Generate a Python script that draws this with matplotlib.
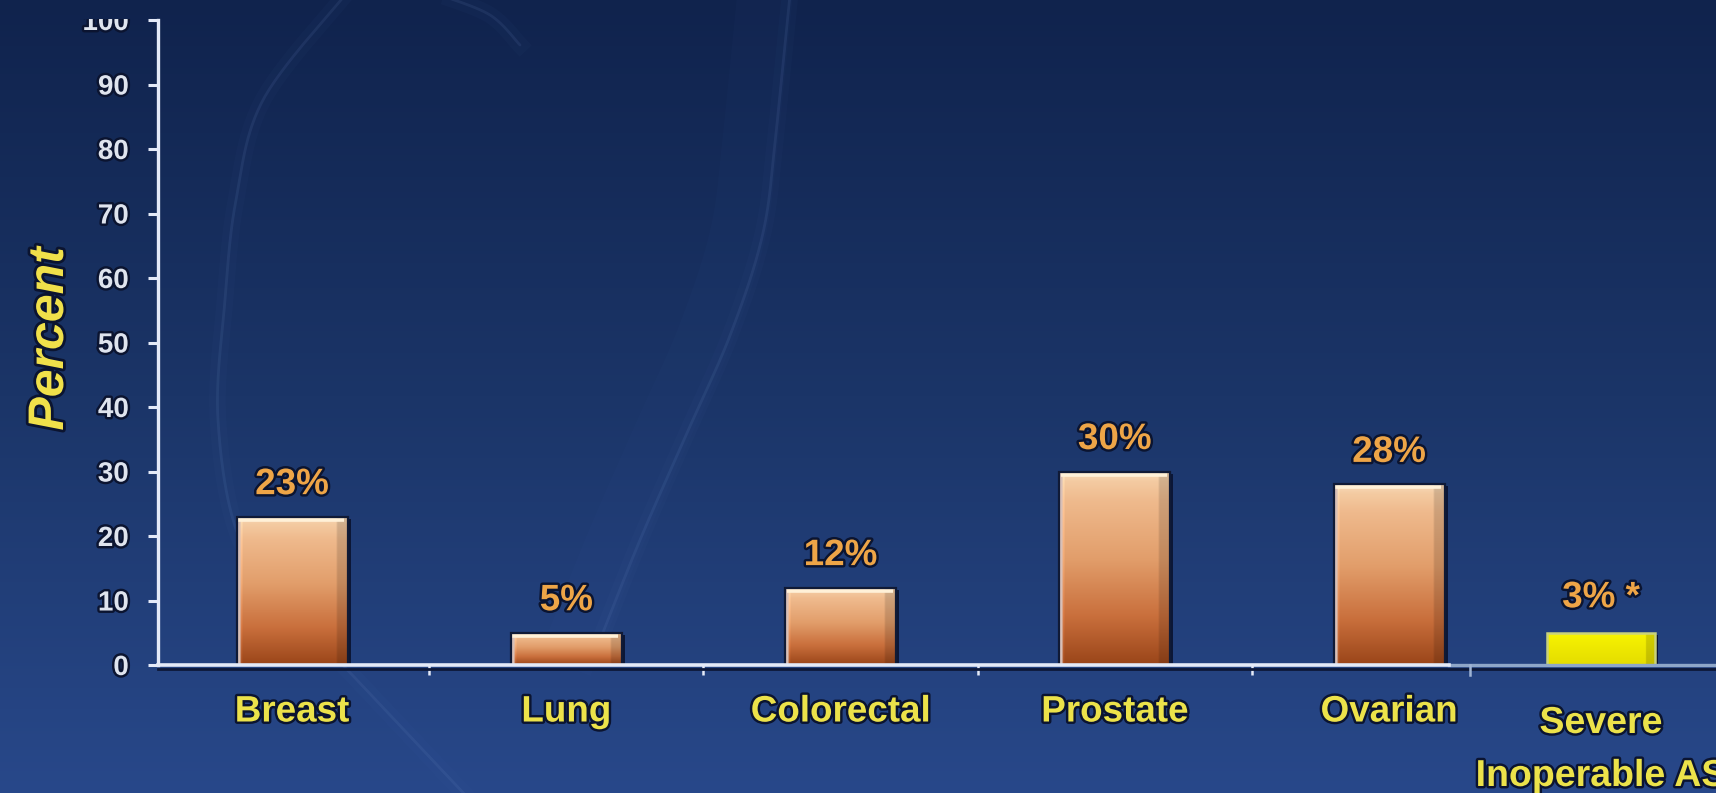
import numpy as np
import matplotlib
matplotlib.use("Agg")
import matplotlib.pyplot as plt
from matplotlib import patheffects as pe
from matplotlib.transforms import offset_copy, Bbox, TransformedBbox, IdentityTransform
from matplotlib.colors import LinearSegmentedColormap, to_rgb
from matplotlib.patches import Rectangle

# ---------------- data ----------------
categories = ["Breast", "Lung", "Colorectal", "Prostate", "Ovarian"]
values = [23, 5, 12, 30, 28]
value_labels = ["23%", "5%", "12%", "30%", "28%"]
extra_category = ["Severe", "Inoperable AS"]
extra_value_label = "3% *"
extra_bar_height = 5          # drawn height of the yellow bar
yticks = [0, 10, 20, 30, 40, 50, 60, 70, 80, 90, 100]
ylabel = "Percent"

# ---------------- style ----------------
plt.rcParams["font.family"] = ["Liberation Sans", "DejaVu Sans"]
W, H = 1716, 793
fig = plt.figure(figsize=(W / 100, H / 100), dpi=100)

# background gradient
bg = fig.add_axes([0, 0, 1, 1], zorder=0)
grad = np.linspace(0, 1, 256)[:, None]
cmap_bg = LinearSegmentedColormap.from_list("bg", ["#10234d", "#1b3568", "#28488a"])
bg.imshow(grad, aspect="auto", cmap=cmap_bg, extent=[0, W, H, 0])
bg.set_xlim(0, W)
bg.set_ylim(H, 0)
bg.axis("off")


def catmull(pts, n=30):
    pts = np.asarray(pts, float)
    P = np.vstack([pts[0], pts, pts[-1]])
    out = []
    for i in range(1, len(P) - 2):
        p0, p1, p2, p3 = P[i - 1], P[i], P[i + 1], P[i + 2]
        t = np.linspace(0, 1, n)[:, None]
        out.append(0.5 * ((2 * p1) + (-p0 + p2) * t + (2 * p0 - 5 * p1 + 4 * p2 - p3) * t ** 2
                          + (-p0 + 3 * p1 - 3 * p2 + p3) * t ** 3))
    return np.vstack(out)


# decorative faint swooshes
arc1 = catmull([(345, -5), (263, 100), (236, 200), (225, 300), (218, 420), (240, 540),
                (300, 620), (357, 680), (470, 800)])
arc2 = catmull([(790, -5), (776, 133), (763, 233), (731, 333), (687, 433), (640, 540), (600, 640)])
arc3 = catmull([(440, -5), (490, 15), (520, 45)])
for arc in (arc1, arc2, arc3):
    bg.plot(arc[:, 0], arc[:, 1], color="#6f8fc8", lw=2.0, alpha=0.12, solid_capstyle="round")
    bg.plot(arc[:, 0], arc[:, 1], color="#5b7cc0", lw=12, alpha=0.035)
bg.plot(arc2[:, 0] - 25, arc2[:, 1], color="#4a6cb8", lw=40, alpha=0.035)

# ---------------- main axes ----------------
ax_left_px, ax_bottom_px, ax_top_px = 158, 665, 20
ax = fig.add_axes([ax_left_px / W, (H - ax_bottom_px) / H, 1 - ax_left_px / W,
                   (ax_bottom_px - ax_top_px) / H], zorder=2)
ax.patch.set_alpha(0)

x = np.arange(len(categories))
spacing_px = 274.25
first_center_px = 292
xmin = (ax_left_px - first_center_px) / spacing_px
xmax = (W - first_center_px) / spacing_px
extra_x = (1601 - first_center_px) / spacing_px
bar_w = 111 / spacing_px
extra_w = 108 / spacing_px

dark = "#0a1330"
# shadows
shadow_tr = offset_copy(ax.transData, fig=fig, x=3, y=-2, units="dots")
for xi, v in zip(x, values):
    r = Rectangle((xi - bar_w / 2, 0), bar_w, v, facecolor=dark, edgecolor="none",
                  transform=shadow_tr, zorder=2.5, alpha=0.9)
    ax.add_patch(r)

bars = ax.bar(x, values, width=bar_w, color="none", edgecolor="#101a36", linewidth=1.6, zorder=3.2)

# gradient fill for bars
stops_t = [0.0, 0.05, 0.15, 0.45, 0.75, 1.0]
stops_c = ["#f8dcbc", "#f4cba2", "#efba8d", "#e29e6b", "#c96f3c", "#9a4519"]
ny, nx = 200, 60
tt = np.linspace(0, 1, ny)
col = np.stack([np.interp(tt, stops_t, [to_rgb(c)[k] for c in stops_c]) for k in range(3)], axis=1)
img = np.repeat(col[:, None, :], nx, axis=1)
ss = np.linspace(0, 1, nx)
shade = np.ones(nx)
shade[ss < 0.05] = 1.08
shade[ss > 0.9] = 0.86
img = np.clip(img * shade[None, :, None], 0, 1)
img[:, ss < 0.025, :] = np.array(to_rgb("#d8c0b8"))
for b in bars:
    x0, w, h = b.get_x(), b.get_width(), b.get_height()
    im = ax.imshow(img, extent=[x0, x0 + w, 0, h], aspect="auto", origin="upper",
                   zorder=3.0, interpolation="bilinear")
    im.set_clip_path(b)
    hl_tr = offset_copy(ax.transData, fig=fig, x=0, y=-3, units="dots")
    ax.plot([x0 + 0.006, x0 + w - 0.012], [h, h], color="#fff1d8", lw=2.6,
            transform=hl_tr, zorder=3.1, solid_capstyle="butt")

# yellow extra bar
r = Rectangle((extra_x - extra_w / 2, 0), extra_w, extra_bar_height, facecolor=dark,
              edgecolor="none", transform=shadow_tr, zorder=2.5)
ax.add_patch(r)
ybar = ax.bar([extra_x], [extra_bar_height], width=extra_w, color="none",
              edgecolor="#c9d27a", linewidth=1.8, zorder=3.2)[0]
ycol = np.stack([np.interp(tt, [0, 0.1, 1], [to_rgb(c)[k] for c in ["#fbfb40", "#f6f200", "#e4dc00"]])
                 for k in range(3)], axis=1)
yimg = np.repeat(ycol[:, None, :], nx, axis=1)
yimg[:, ss > 0.93, :] *= 0.85
im = ax.imshow(yimg, extent=[extra_x - extra_w / 2, extra_x + extra_w / 2, 0, extra_bar_height],
               aspect="auto", origin="upper", zorder=3.0)
im.set_clip_path(ybar)

# ---------------- axes styling ----------------
ax.set_xlim(xmin, xmax)
ax.set_ylim(0, 100)
white = "#e4eaf8"
for s in ("top", "right"):
    ax.spines[s].set_visible(False)
ax.spines["left"].set_color(white)
ax.spines["left"].set_linewidth(2.4)
ax.spines["left"].set_zorder(4)
ax.spines["bottom"].set_color(white)
ax.spines["bottom"].set_linewidth(2.6)
ax.spines["bottom"].set_bounds(xmin, 4.22)
ax.spines["bottom"].set_zorder(4)
# continuation of x axis and its shadow
ax.plot([4.22, xmax], [0, 0], color="#8ea6c8", lw=2.4, clip_on=False, zorder=4)
sh_tr = offset_copy(ax.transData, fig=fig, x=0, y=-4, units="dots")
ax.plot([xmin, xmax], [0, 0], color="#0d1838", lw=2.0, transform=sh_tr, clip_on=False, zorder=3.9)
ax.plot([4.295, 4.295], [0, -1.6], color="#9fb4d4", lw=1.8, clip_on=False, zorder=4)

ax.set_yticks(yticks)
ax.tick_params(axis="y", direction="out", length=7, width=2.2, color=white, pad=14,
               labelsize=20, labelcolor="#dfe4ee")
stroke = [pe.withStroke(linewidth=3.5, foreground="#0b1430")]
for lab in ax.get_yticklabels():
    lab.set_fontweight("bold")
    lab.set_path_effects(stroke)
# the top label is partially cut off in the reference
top_lab = ax.yaxis.get_major_ticks()[-1].label1
top_lab.set_clip_box(TransformedBbox(Bbox([[0, 0], [W, H - 19]]), IdentityTransform()))
top_lab.set_clip_on(True)

ax.set_xticks(x)
ax.set_xticklabels([])
ax.tick_params(axis="x", which="major", length=0)
ax.set_xticks([0.5, 1.5, 2.5, 3.5], minor=True)
ax.tick_params(axis="x", which="minor", direction="out", length=7, width=1.8, color=white)

cat_color = "#ece24a"
val_color = "#eea547"
for xi, name in zip(x, categories):
    ax.annotate(name, xy=(xi, 0), xytext=(0, -47), textcoords="offset pixels",
                ha="center", va="center", fontsize=26.5, fontweight="bold", color=cat_color,
                path_effects=stroke, annotation_clip=False, zorder=5)
for xi, v, lab in zip(x, values, value_labels):
    ax.annotate(lab, xy=(xi, v), xytext=(0, 32), textcoords="offset pixels",
                ha="center", va="center", fontsize=26.5, fontweight="bold", color=val_color,
                path_effects=stroke, annotation_clip=False, zorder=5)

ax.annotate(extra_value_label, xy=(extra_x, extra_bar_height), xytext=(0, 35),
            textcoords="offset pixels", ha="center", va="center", fontsize=26.5,
            fontweight="bold", color=val_color, path_effects=stroke, annotation_clip=False, zorder=5)
ax.annotate(extra_category[0], xy=(extra_x, 0), xytext=(0, -58), textcoords="offset pixels",
            ha="center", va="center", fontsize=27, fontweight="bold", color=cat_color,
            path_effects=stroke, annotation_clip=False, zorder=5)
ax.annotate(extra_category[1], xy=(extra_x, 0), xytext=(0, -111), textcoords="offset pixels",
            ha="center", va="center", fontsize=27, fontweight="bold", color=cat_color,
            path_effects=stroke, annotation_clip=False, zorder=5)

fig.text(50 / W, 1 - 339 / H, ylabel, rotation=90, ha="center", va="center", fontsize=36,
         fontweight="bold", fontstyle="italic", color="#f0e04a",
         path_effects=[pe.withStroke(linewidth=4, foreground="#0b1430")], zorder=5)

fig.savefig("out.png", dpi=100)
